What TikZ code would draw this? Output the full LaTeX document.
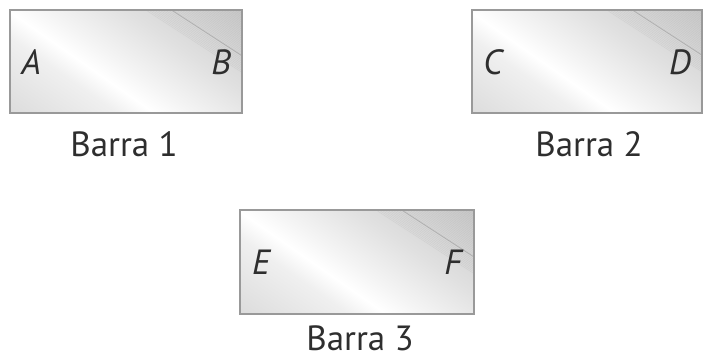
\documentclass[tikz,border=0pt]{standalone}
\usepackage{fontspec}
\setmainfont{PT Sans}
\usetikzlibrary{calc}

% metallic sheen across a bar (path box spans 25bp..75bp)
\pgfdeclarehorizontalshading{barsheen}{100bp}{%
  color(0bp)=(black!16);
  color(27bp)=(black!15);
  color(41bp)=(black!6);
  color(45bp)=(white);
  color(49bp)=(black!4);
  color(58bp)=(black!12);
  color(72bp)=(black!22);
  color(100bp)=(black!24)}

\tikzset{
  barlabel/.style={font=\fontsize{35}{38}\selectfont, text=black!82, inner sep=0pt},
  endlabel/.style={font=\fontsize{35}{38}\selectfont\itshape, text=black!82, inner sep=0pt},
  barframe/.style={draw=black!40, line width=1.3pt},
}

% \metalbar{name}{x0}{y0}{x1}{y1}
\newcommand\metalbar[5]{%
  \coordinate (#1-sw) at (#2,#5);
  \coordinate (#1-ne) at (#4,#3);
  \coordinate (#1-c) at ($(#1-sw)!0.5!(#1-ne)$);
  \begin{scope}
    \clip (#1-sw) rectangle (#1-ne);
    \shade[shading=barsheen, shading angle=55]
      ($(#1-c)+(-130,-130)$) rectangle ($(#1-c)+(130,130)$);
    % fine striations in the upper right corner
    \begin{scope}[shift={(#1-c)}, rotate=-33]
      \foreach \d in {-120,-118.5,...,-54}{
        \draw[black!40, opacity=0.2, line width=0.4pt] (-200,\d) -- (200,\d);
      }
      \draw[black!50, opacity=0.45, line width=0.7pt] (-200,-68) -- (200,-68);
    \end{scope}
  \end{scope}
  \draw[barframe] (#1-sw) rectangle (#1-ne);
}

\begin{document}
\begin{tikzpicture}[x=1pt, y=-1pt]
  \useasboundingbox (0,0) rectangle (703,358);

  \metalbar{b1}{10}{10}{242}{113}
  \metalbar{b2}{472}{10}{702}{113}
  \metalbar{b3}{240}{210}{474}{314}

  \node[endlabel] (A) at (31,62) {A};
  \node[endlabel] (B) at (221,62) {B};
  \node[endlabel] (C) at (493,62) {C};
  \node[endlabel] (D) at (680,62) {D};
  \node[endlabel] (E) at (261,262) {E};
  \node[endlabel] (F) at (453,262) {F};

  \node[barlabel] (l1) at (124,144) {Barra 1};
  \node[barlabel] (l2) at (589,144) {Barra 2};
  \node[barlabel] (l3) at (360,338) {Barra 3};
\end{tikzpicture}
\end{document}
